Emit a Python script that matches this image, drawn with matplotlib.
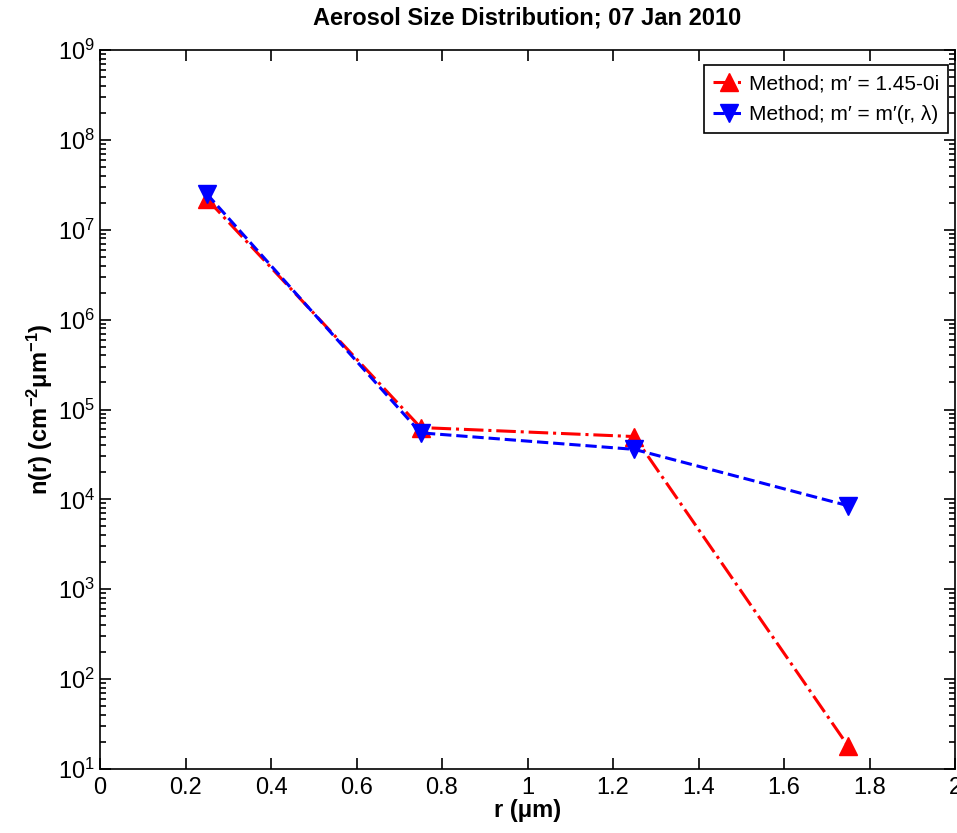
import matplotlib
matplotlib.use("Agg")
import matplotlib.pyplot as plt
import numpy as np
from matplotlib.ticker import LogLocator, NullFormatter, FuncFormatter

# dados
r = [0.25, 0.75, 1.25, 1.75]
n_fixo = [2.2e7, 6.3e4, 5.0e4, 18]
n_var = [2.5e7, 5.5e4, 3.6e4, 8.5e3]
rotulos = ["Method; m\u2032 = 1.45-0i", "Method; m\u2032 = m\u2032(r, \u03bb)"]
xticks = [0, 0.2, 0.4, 0.6, 0.8, 1, 1.2, 1.4, 1.6, 1.8, 2]
xtick_labels = ['0', '0.2', '0.4', '0.6', '0.8', '1', '1.2', '1.4', '1.6', '1.8', '2']

plt.rcParams['font.family'] = ['Liberation Sans', 'DejaVu Sans']
plt.rcParams['mathtext.fontset'] = 'custom'
plt.rcParams['mathtext.rm'] = 'Liberation Sans'
plt.rcParams['mathtext.bf'] = 'Liberation Sans:bold'
plt.rcParams['mathtext.default'] = 'regular'

fig = plt.figure(figsize=(9.57, 8.33), dpi=100)
ax = fig.add_axes([100 / 957, 1 - 769 / 833, 855 / 957, 719 / 833])

ax.semilogy(r, n_fixo, color='red', linestyle='-.', linewidth=2.2,
            marker='^', markersize=13.5, label=rotulos[0])
ax.semilogy(r, n_var, color='blue', linestyle='--', linewidth=2.2,
            marker='v', markersize=13.5, label=rotulos[1])

ax.set_xlim(0, 2)
ax.set_ylim(1e1, 1e9)
ax.set_xticks(xticks)
ax.set_xticklabels(xtick_labels)
ax.yaxis.set_major_locator(LogLocator(base=10, numticks=20))
ax.yaxis.set_major_formatter(FuncFormatter(lambda v, p: "$10^{%d}$" % round(np.log10(v))))
ax.yaxis.set_minor_locator(LogLocator(base=10, subs=np.arange(2, 10), numticks=20))
ax.yaxis.set_minor_formatter(NullFormatter())

ax.tick_params(which='both', direction='in', top=True, right=True, labelsize=17, width=1.2)
ax.tick_params(which='major', length=8)
ax.tick_params(which='minor', length=4)
ax.tick_params(axis='x', pad=6)
for s in ax.spines.values():
    s.set_linewidth(1.2)

ax.set_title("Aerosol Size Distribution; 07 Jan 2010", fontsize=17, fontweight='bold', pad=18)
ax.set_xlabel("r (\u03bcm)", fontsize=17, fontweight='bold', labelpad=0)
ax.set_ylabel("n(r) (cm$^{\\mathbf{-2}}$\u03bcm$^{\\mathbf{-1}}$)", fontsize=17,
              fontweight='bold', labelpad=2)

leg = ax.legend(loc='upper right', bbox_to_anchor=(0.992, 0.979), borderaxespad=0,
                fontsize=15, fancybox=False, edgecolor='black', framealpha=1,
                handlelength=1.5, handletextpad=0.2, borderpad=0.45, labelspacing=0.55)
leg.get_frame().set_linewidth(1.2)

fig.savefig("out.png", dpi=100)
